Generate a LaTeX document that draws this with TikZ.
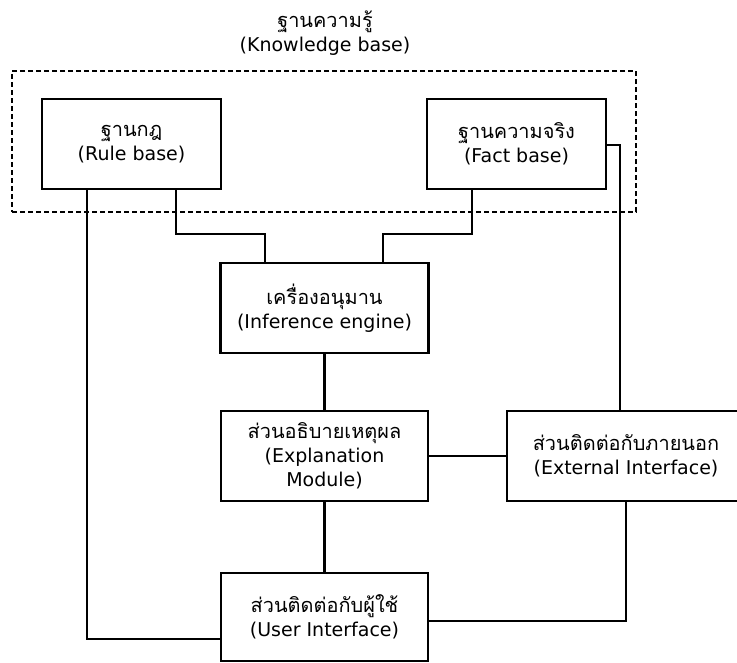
\documentclass[tikz,border=0pt]{standalone}
\usepackage{fontspec}
\setmainfont{DejaVu Sans}
\newfontfamily\thai[Script=Thai,Scale=1.05]{Loma}
\begin{document}
\begin{tikzpicture}[x=1pt,y=-1pt,line width=2.2pt,
  box/.style={draw,rectangle,align=center,inner sep=0pt,font=\fontsize{19}{24}\selectfont},
  title/.style={align=center,inner sep=0pt,font=\fontsize{19}{24}\selectfont},
  kbbox/.style={draw,rectangle,line width=1.8pt,dash pattern=on 5pt off 3pt,inner sep=0pt}]
\useasboundingbox (0,0) rectangle (737,662);
% knowledge base frame and title
\node[title] (kbt) at (325,33) {{\thai ฐานความรู้}\\(Knowledge base)};
\node[kbbox,minimum width=624pt,minimum height=141pt] (kb) at (324,141.5) {};
% boxes
\node[box,minimum width=179pt,minimum height=90pt] (rule) at (131.5,144) {{\thai ฐานกฎ}\\(Rule base)};
\node[box,minimum width=179pt,minimum height=90pt] (fact) at (516.5,144) {{\thai ฐานความจริง}\\(Fact base)};
\node[box,minimum width=208pt,minimum height=90pt] (infer) at (324.5,308) {{\thai เครื่องอนุมาน}\\(Inference engine)};
\node[box,minimum width=207pt,minimum height=90pt] (expl) at (324.5,456) {{\thai ส่วนอธิบายเหตุผล}\\(Explanation\\Module)};
\node[box,minimum width=238pt,minimum height=90pt] (ext) at (626,456) {{\thai ส่วนติดต่อกับภายนอก}\\(External Interface)};
\node[box,minimum width=207pt,minimum height=88pt] (user) at (324.5,617) {{\thai ส่วนติดต่อกับผู้ใช้}\\(User Interface)};
% connector bends
\coordinate (ra) at (87,639);
\coordinate (rb) at (176,234);
\coordinate (rc) at (265,234);
\coordinate (fa) at (472,234);
\coordinate (fb) at (383,234);
\coordinate (fc) at (620,145);
\coordinate (ea) at (626,621);
% connectors
\draw (rule.south -| ra) -- (ra) -- (user.west |- ra);
\draw (rule.south -| rb) -- (rb) -- (rc) -- (infer.north -| rc);
\draw (fact.south -| fa) -- (fa) -- (fb) -- (infer.north -| fb);
\draw (fact.east |- fc) -- (fc) -- (ext.north -| fc);
\draw (infer.south) -- (expl.north);
\draw (expl.east) -- (ext.west);
\draw (expl.south) -- (user.north);
\draw (ext.south -| ea) -- (ea) -- (user.east |- ea);
\end{tikzpicture}
\end{document}
